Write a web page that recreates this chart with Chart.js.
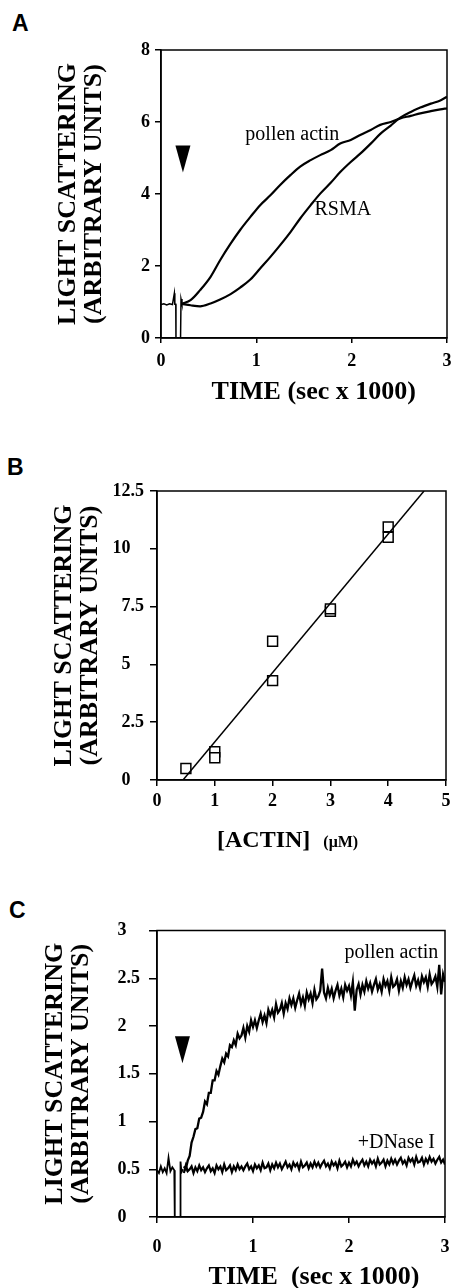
<!DOCTYPE html>
<html>
<head>
<meta charset="utf-8">
<script src="https://cdn.jsdelivr.net/npm/chart.js@4.4.1/dist/chart.umd.min.js"></script>
<style>
html, body { margin: 0; padding: 0; background: #fff; width: 452px; height: 1288px; overflow: hidden; }
.box { position: absolute; left: 0; width: 470px; }
.letter { position: absolute; font: bold 23px/23px 'Liberation Sans', Arial, sans-serif; color: #000; }
.xtitle { position: absolute; font: bold 24px/24px 'Liberation Serif', 'Times New Roman', serif; color: #000; white-space: nowrap; }
.xtitle span { font-size: 16px; margin-left: 9px; }
</style>
</head>
<body>
<div class="letter" style="left:12px;top:12px">A</div>
<div class="box" style="top:0;height:415px"><canvas id="chartA"></canvas></div>
<div class="letter" style="left:7px;top:456px">B</div>
<div class="box" style="top:415px;height:440px"><canvas id="chartB"></canvas></div>
<div class="xtitle" style="left:217px;top:827px"><b>[ACTIN]</b><span> (μM)</span></div>
<div class="letter" style="left:9px;top:899px">C</div>
<div class="box" style="top:855px;height:445px"><canvas id="chartC"></canvas></div>
<script>
// ---- panel A : light scattering vs time ----
const aStartTime = [0, 0.03, 0.06, 0.09, 0.12, 0.14, 0.145, 0.155, 0.157, 0.205, 0.21, 0.22];
const aStartValue = [0.93, 0.95, 0.92, 0.95, 0.93, 1.24, 0.94, 0.94, 0, 0, 1.08, 0.95];
const aTime = [0.22, 0.31, 0.41, 0.52, 0.62, 0.73, 0.83, 0.94, 1.04, 1.15, 1.25, 1.36, 1.46, 1.57,
    1.67, 1.78, 1.88, 1.99, 2.09, 2.2, 2.3, 2.41, 2.51, 2.62, 2.72, 2.83, 2.93, 3.0];
const aPollen = [0.95, 1.05, 1.33, 1.70, 2.16, 2.62, 3.00, 3.37, 3.69, 3.97, 4.25, 4.53, 4.76, 4.94,
    5.08, 5.22, 5.40, 5.50, 5.64, 5.78, 5.92, 6.00, 6.10, 6.17, 6.24, 6.30, 6.35, 6.38];
const aRsma = [0.95, 0.91, 0.88, 0.96, 1.07, 1.22, 1.40, 1.63, 1.93, 2.26, 2.58, 2.95, 3.32, 3.69,
    4.01, 4.31, 4.61, 4.89, 5.12, 5.40, 5.67, 5.90, 6.12, 6.28, 6.40, 6.51, 6.60, 6.70];
const aTimeTicks = [0, 1, 2, 3];
const aValueTicks = [0, 2, 4, 6, 8];

// ---- panel B : light scattering vs actin ----
const bActin = [0.5, 1, 1, 2, 2, 3, 3, 4, 4];
const bSignal = [0.5, 1.22, 0.96, 4.3, 6.0, 7.3, 7.4, 10.5, 10.95];
const bFitActin = [0.45, 4.62];
const bFitSignal = [0, 12.5];
const bActinTicks = [0, 1, 2, 3, 4, 5];
const bSignalTicks = [0, 2.5, 5, 7.5, 10, 12.5];

// ---- panel C : pollen actin with and without DNase I ----
const cStartTime = [0, 0.02, 0.04, 0.06, 0.08, 0.10, 0.12, 0.14, 0.16, 0.18, 0.185, 0.24, 0.245, 0.255, 0.27];
const cStartValue = [0.49, 0.46, 0.53, 0.47, 0.51, 0.46, 0.62, 0.48, 0.52, 0.49, 0, 0, 0.58, 0.47, 0.50];
const cTime = [
    0.28, 0.30, 0.32, 0.34, 0.36, 0.38, 0.40, 0.42, 0.44, 0.46,
    0.48, 0.50, 0.52, 0.54, 0.56, 0.58, 0.60, 0.62, 0.64, 0.66,
    0.68, 0.70, 0.72, 0.74, 0.76, 0.78, 0.80, 0.82, 0.84, 0.86,
    0.88, 0.90, 0.92, 0.94, 0.96, 0.98, 1.00, 1.02, 1.04, 1.06,
    1.08, 1.10, 1.12, 1.14, 1.16, 1.18, 1.20, 1.22, 1.24, 1.26,
    1.28, 1.30, 1.32, 1.34, 1.36, 1.38, 1.40, 1.42, 1.44, 1.46,
    1.48, 1.50, 1.52, 1.54, 1.56, 1.58, 1.60, 1.62, 1.64, 1.66,
    1.68, 1.70, 1.72, 1.74, 1.76, 1.78, 1.80, 1.82, 1.84, 1.86,
    1.88, 1.90, 1.92, 1.94, 1.96, 1.98, 2.00, 2.02, 2.04, 2.06,
    2.08, 2.10, 2.12, 2.14, 2.16, 2.18, 2.20, 2.22, 2.24, 2.26,
    2.28, 2.30, 2.32, 2.34, 2.36, 2.38, 2.40, 2.42, 2.44, 2.46,
    2.48, 2.50, 2.52, 2.54, 2.56, 2.58, 2.60, 2.62, 2.64, 2.66,
    2.68, 2.70, 2.72, 2.74, 2.76, 2.78, 2.80, 2.82, 2.84, 2.86,
    2.88, 2.90, 2.92, 2.94, 2.96, 2.98, 3.00];
const cPollen = [
    0.53, 0.50, 0.59, 0.64, 0.78, 0.84, 0.92, 0.93, 1.03, 1.04,
    1.10, 1.21, 1.18, 1.30, 1.30, 1.43, 1.43, 1.53, 1.49, 1.58,
    1.66, 1.62, 1.71, 1.68, 1.80, 1.78, 1.85, 1.80, 1.92, 1.87,
    1.90, 1.98, 1.88, 2.00, 1.94, 2.06, 1.99, 2.06, 1.98, 2.06,
    2.13, 2.04, 2.11, 2.03, 2.17, 2.11, 2.17, 2.09, 2.23, 2.14,
    2.17, 2.24, 2.13, 2.24, 2.18, 2.29, 2.22, 2.29, 2.19, 2.27,
    2.34, 2.23, 2.30, 2.21, 2.35, 2.28, 2.34, 2.24, 2.38, 2.28,
    2.31, 2.37, 2.60, 2.35, 2.29, 2.40, 2.32, 2.39, 2.29, 2.37,
    2.43, 2.32, 2.39, 2.30, 2.43, 2.37, 2.42, 2.32, 2.46, 2.16,
    2.38, 2.44, 2.33, 2.43, 2.36, 2.47, 2.39, 2.45, 2.36, 2.43,
    2.49, 2.38, 2.44, 2.36, 2.49, 2.42, 2.47, 2.37, 2.51, 2.41,
    2.43, 2.49, 2.37, 2.47, 2.40, 2.51, 2.43, 2.49, 2.40, 2.47,
    2.53, 2.42, 2.48, 2.40, 2.52, 2.46, 2.51, 2.41, 2.54, 2.44,
    2.47, 2.52, 2.41, 2.64, 2.33, 2.54, 2.46];
const cDnase = [
    0.46, 0.54, 0.48, 0.50, 0.53, 0.46, 0.52, 0.48, 0.54, 0.49,
    0.52, 0.47, 0.51, 0.54, 0.48, 0.51, 0.46, 0.54, 0.50, 0.53,
    0.47, 0.55, 0.49, 0.51, 0.54, 0.47, 0.53, 0.49, 0.55, 0.50,
    0.53, 0.49, 0.53, 0.56, 0.50, 0.53, 0.48, 0.55, 0.51, 0.54,
    0.49, 0.57, 0.51, 0.52, 0.56, 0.49, 0.55, 0.51, 0.57, 0.52,
    0.56, 0.50, 0.54, 0.58, 0.52, 0.55, 0.50, 0.57, 0.53, 0.56,
    0.50, 0.58, 0.52, 0.54, 0.57, 0.51, 0.56, 0.52, 0.58, 0.53,
    0.57, 0.52, 0.56, 0.59, 0.53, 0.56, 0.51, 0.58, 0.54, 0.57,
    0.51, 0.59, 0.53, 0.55, 0.58, 0.52, 0.57, 0.53, 0.60, 0.55,
    0.58, 0.53, 0.57, 0.60, 0.54, 0.58, 0.53, 0.60, 0.56, 0.59,
    0.53, 0.61, 0.55, 0.57, 0.60, 0.53, 0.59, 0.55, 0.61, 0.56,
    0.60, 0.55, 0.59, 0.62, 0.56, 0.59, 0.54, 0.62, 0.58, 0.61,
    0.55, 0.63, 0.57, 0.58, 0.62, 0.55, 0.61, 0.57, 0.63, 0.58,
    0.61, 0.56, 0.60, 0.63, 0.57, 0.60, 0.55];
const cTimeTicks = [0, 1, 2, 3];
const cValueTicks = [0, 0.5, 1, 1.5, 2, 2.5, 3];

const serif = "'Liberation Serif', 'Times New Roman', serif";
const tickFont = { family: serif, size: 18, weight: 'bold' };
const titleFont = { family: serif, size: 26, weight: 'bold', lineHeight: 1 };
const yTitle = ['LIGHT SCATTERING', '(ARBITRARY UNITS)'];

function pts(xs, ys) {
    return xs.map((x, i) => ({ x: x, y: ys[i] }));
}

// integers get the width of ".5" behind them so the labels line up
function padLabel(v) {
    return Number.isInteger(v) ? v + '   ' : String(v);
}

function sizeAxis(size) {
    return scale => {
        if (scale.isHorizontal()) scale.height = size; else scale.width = size;
        scale.paddingLeft = 0;
        scale.paddingRight = 0;
        scale.paddingTop = 0;
        scale.paddingBottom = 0;
    };
}

function makeAxis(ticks, size, tickLen, pad, title, label) {
    return {
        type: 'linear',
        min: ticks[0],
        max: ticks[ticks.length - 1],
        afterBuildTicks: scale => { scale.ticks = ticks.map(v => ({ value: v })); },
        afterFit: sizeAxis(size),
        grid: { drawOnChartArea: false, tickLength: tickLen, color: '#000', lineWidth: 1.5 },
        border: { color: '#000', width: 1.5 },
        ticks: { font: tickFont, color: '#000', padding: pad, maxRotation: 0, autoSkip: false, callback: label || (v => String(v)) },
        title: title ? Object.assign({ display: true, color: '#000', font: titleFont }, title) : { display: false }
    };
}

function line(xs, ys, width, smooth) {
    return {
        data: pts(xs, ys),
        showLine: true,
        borderColor: '#000',
        borderWidth: width,
        pointRadius: 0,
        tension: 0,
        cubicInterpolationMode: smooth ? 'monotone' : 'default'
    };
}

// frame round the plot, arrows and curve labels (placed in data units)
const notes = {
    id: 'notes',
    afterDraw(chart, args, opts) {
        const ctx = chart.ctx;
        const a = chart.chartArea;
        const sx = chart.scales.x;
        const sy = chart.scales.y;
        ctx.save();
        ctx.strokeStyle = '#000';
        ctx.lineWidth = 1.5;
        ctx.strokeRect(a.left, a.top, a.right - a.left, a.bottom - a.top);
        ctx.fillStyle = '#000';
        (opts.arrows || []).forEach(p => {
            const x = sx.getPixelForValue(p.x);
            const y = sy.getPixelForValue(p.y);
            ctx.beginPath();
            ctx.moveTo(x - 7.5, y - 27);
            ctx.lineTo(x + 7.5, y - 27);
            ctx.lineTo(x, y);
            ctx.closePath();
            ctx.fill();
        });
        ctx.font = '20px ' + serif;
        ctx.textBaseline = 'alphabetic';
        (opts.labels || []).forEach(l => {
            ctx.textAlign = l.align || 'left';
            ctx.fillText(l.text, sx.getPixelForValue(l.x), sy.getPixelForValue(l.y));
        });
        ctx.restore();
    }
};
Chart.register(notes);

function baseOptions(padding, x, y, notesOpts) {
    return {
        responsive: true,
        maintainAspectRatio: false,
        animation: false,
        events: [],
        layout: { padding: padding },
        plugins: { legend: { display: false }, tooltip: { enabled: false }, notes: notesOpts },
        scales: { x: x, y: y }
    };
}

new Chart(document.getElementById('chartA'), {
    type: 'scatter',
    data: {
        datasets: [
            line(aStartTime, aStartValue, 1.5, false),
            Object.assign(line(aTime, aPollen, 2.2, true), { label: 'pollen actin' }),
            Object.assign(line(aTime, aRsma, 2.2, true), { label: 'RSMA' })
        ]
    },
    options: baseOptions(
        { left: 0, top: 50, right: 23, bottom: 10 },
        makeAxis(aTimeTicks, 67, 5, 8, { text: '   TIME (sec x 1000)', padding: 0 }),
        makeAxis(aValueTicks, 161, 6, 5, { text: yTitle, padding: { top: 55, bottom: 0 } }),
        {
            arrows: [{ x: 0.23, y: 4.6 }],
            labels: [
                { text: 'pollen actin', x: 0.885, y: 5.5 },
                { text: 'RSMA', x: 1.61, y: 3.42 }
            ]
        }
    )
});

new Chart(document.getElementById('chartB'), {
    type: 'scatter',
    data: {
        datasets: [
            line(bFitActin, bFitSignal, 1.5, false),
            {
                data: pts(bActin, bSignal),
                pointStyle: 'rect',
                pointRadius: 7,
                borderWidth: 1.5,
                borderColor: '#000',
                backgroundColor: '#fff'
            }
        ]
    },
    options: baseOptions(
        { left: 0, top: 76, right: 24, bottom: 35 },
        makeAxis(bActinTicks, 40, 6, 5, null),
        makeAxis(bSignalTicks, 157, 7, 6, { text: yTitle, padding: { top: 51, bottom: 0 } }, padLabel),
        {}
    )
});

new Chart(document.getElementById('chartC'), {
    type: 'scatter',
    data: {
        datasets: [
            line(cStartTime, cStartValue, 1.8, false),
            Object.assign(line(cTime, cPollen, 2.3, false), { label: 'pollen actin' }),
            Object.assign(line(cTime, cDnase, 2.2, false), { label: '+DNase I' })
        ]
    },
    options: baseOptions(
        { left: 0, top: 75.5, right: 25, bottom: 10 },
        makeAxis(cTimeTicks, 73, 6, 14, { text: '    TIME  (sec x 1000)', padding: 0 }),
        makeAxis(cValueTicks, 157, 8, 9, { text: yTitle, padding: { top: 42, bottom: 0 } }, padLabel),
        {
            arrows: [{ x: 0.265, y: 1.61 }],
            labels: [
                { text: 'pollen actin', x: 2.93, y: 2.71, align: 'right' },
                { text: '+DNase I', x: 2.896, y: 0.72, align: 'right' }
            ]
        }
    )
});
</script>
</body>
</html>
